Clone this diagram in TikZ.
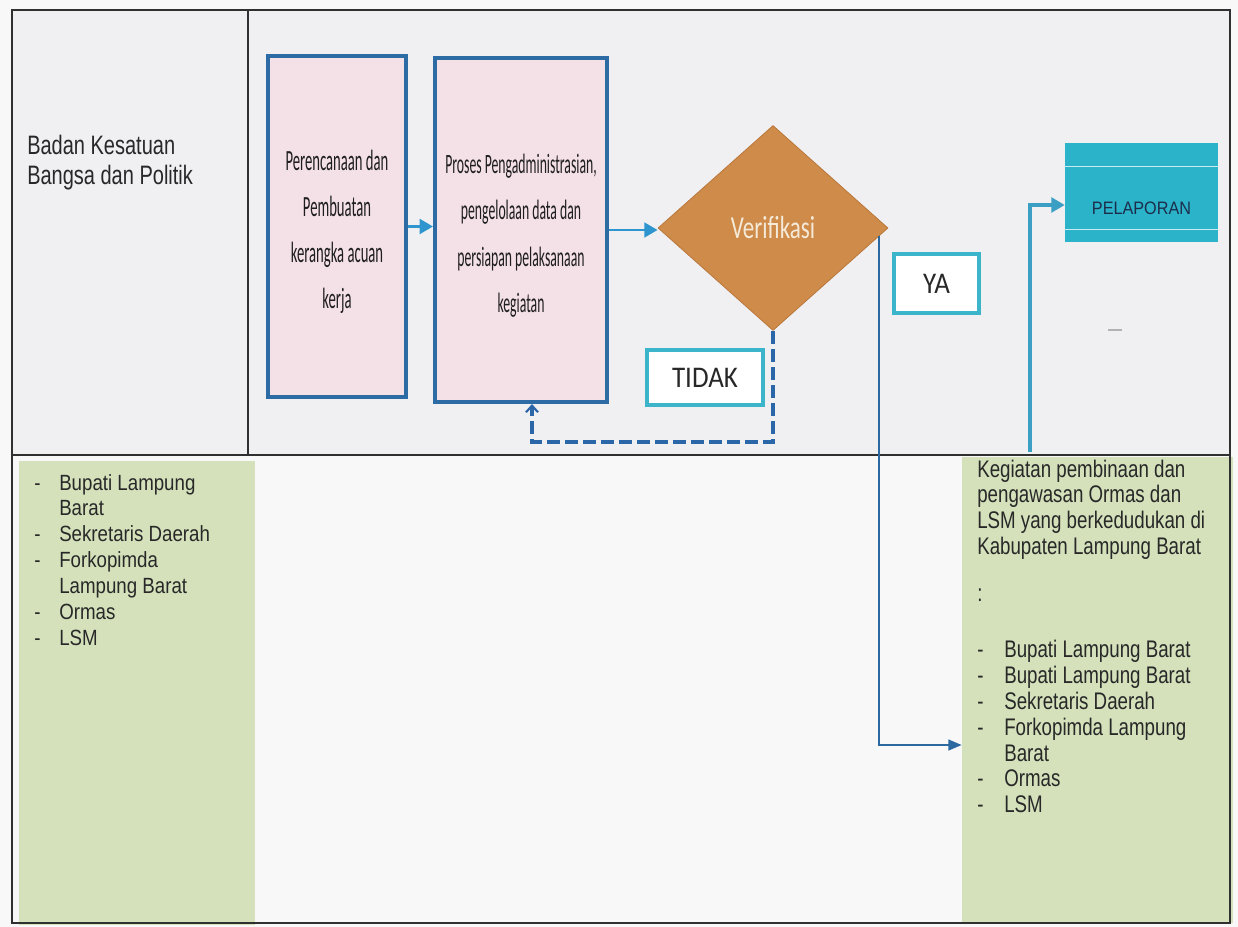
\documentclass[tikz,border=0pt]{standalone}
\usepackage{fontspec}
\setmainfont{Liberation Sans}
\newfontfamily\hdrfont[FakeStretch=0.75]{Liberation Sans}
\newfontfamily\lstfont[FakeStretch=0.85]{Liberation Sans}
\newfontfamily\rlstfont[FakeStretch=0.78]{Liberation Sans}
\newfontfamily\pelfont[FakeStretch=0.9]{Liberation Sans}
\newfontfamily\boxfonta[FakeStretch=0.5]{Carlito}
\newfontfamily\boxfontb[FakeStretch=0.49]{Carlito}
\newfontfamily\verfont[FakeStretch=0.72]{Carlito}
\newfontfamily\yafont[FakeStretch=0.9]{Carlito}
\usetikzlibrary{arrows.meta,shapes.geometric,calc}
\definecolor{pagebg}{HTML}{F8F8F8}
\definecolor{rowbg}{HTML}{F0F0F3}
\definecolor{framecol}{HTML}{303030}
\definecolor{boxblue}{HTML}{2C6BA3}
\definecolor{boxpink}{HTML}{F4E0E7}
\definecolor{arrowblue}{HTML}{2E95CF}
\definecolor{dashblue}{HTML}{2A66A8}
\definecolor{yablue}{HTML}{2B69A0}
\definecolor{tealline}{HTML}{3A9FC2}
\definecolor{tagcyan}{HTML}{3CB5CA}
\definecolor{diaorange}{HTML}{CE8B49}
\definecolor{diaedge}{HTML}{B9773B}
\definecolor{verwhite}{HTML}{F5E9D8}
\definecolor{pelfill}{HTML}{2BB3CA}
\definecolor{pelnavy}{HTML}{1C2D4A}
\definecolor{greenfill}{HTML}{D4E1BB}
\definecolor{txtdark}{HTML}{282828}
\definecolor{boxtxt}{HTML}{1E1E1E}
\begin{document}
\begin{tikzpicture}[x=0.75pt,y=-0.75pt,
  frame/.style={draw=framecol,line width=1.1pt},
  procbox/.style={draw=boxblue,line width=3pt,fill=boxpink,inner sep=0pt,align=center,text=boxtxt},
  tagbox/.style={draw=tagcyan,line width=3pt,fill=white,inner sep=0pt,text=txtdark,
    font=\yafont\fontsize{22.5}{24}\selectfont},
  greenbox/.style={fill=greenfill,draw=none,inner sep=0pt},
  flow/.style={draw=arrowblue,line width=2.2pt,-{Triangle[length=10pt,width=11pt]}},
  dashflow/.style={draw=dashblue,line width=3pt,dash pattern=on 10pt off 3.5pt,
    -{Straight Barb[length=5pt,width=9pt,line width=1.6pt]}},
  yaline/.style={draw=yablue,line width=1.6pt,-{Triangle[length=10pt,width=8pt]}},
  tealflow/.style={draw=tealline,line width=2.4pt,-{Triangle[length=10pt,width=11pt]}}
]
\useasboundingbox (0,0) rectangle (1238,927);
\fill[pagebg] (0,0) rectangle (1238,927);
\fill[rowbg] (12,10) rectangle (1229,455);

% green lane boxes
\node[greenbox,minimum width=177pt,minimum height=348pt] (g1) at (137,693) {};
\node[greenbox,minimum width=203.25pt,minimum height=349.5pt] (g2) at (1097.5,690) {};

% table frame
\draw[frame] (12,10) rectangle (1230,923);
\draw[frame] (248,10) -- (248,455);
\draw[frame] (12,455) -- (1230,455);

% header text
\node[anchor=base west,inner sep=0pt,text=txtdark,font=\hdrfont\fontsize{20}{22.5}\selectfont] (hdr) at (27,155)
  {\begin{tabular}[t]{@{}l@{}}Badan Kesatuan\\Bangsa dan Politik\end{tabular}};

% left list
\node[anchor=base west,inner sep=0pt,text=txtdark,font=\lstfont\fontsize{16.5}{19.4}\selectfont] (l1) at (34,490)
  {\begin{tabular}[t]{@{}p{18.75pt}@{}l@{}}
  -& Bupati Lampung\\
   & Barat\\
  -& Sekretaris Daerah\\
  -& Forkopimda\\
   & Lampung Barat\\
  -& Ormas\\
  -& LSM
  \end{tabular}};

% right list
\node[anchor=base west,inner sep=0pt,text=txtdark,font=\rlstfont\fontsize{18}{19.4}\selectfont] (l2) at (977,477)
  {\begin{tabular}[t]{@{}p{20.25pt}@{}l@{}}
  \multicolumn{2}{@{}l@{}}{Kegiatan pembinaan dan}\\
  \multicolumn{2}{@{}l@{}}{pengawasan Ormas dan}\\
  \multicolumn{2}{@{}l@{}}{LSM yang berkedudukan di}\\
  \multicolumn{2}{@{}l@{}}{Kabupaten Lampung Barat}\\[15.8pt]
  \multicolumn{2}{@{}l@{}}{:}\\[22.6pt]
  -& Bupati Lampung Barat\\
  -& Bupati Lampung Barat\\
  -& Sekretaris Daerah\\
  -& Forkopimda Lampung\\
   & Barat\\
  -& Ormas\\
  -& LSM
  \end{tabular}};

% process boxes
\node[procbox,minimum width=103.5pt,minimum height=255.75pt,
  font=\boxfonta\fontsize{22}{34.5}\selectfont] (b1) at (337,226.5)
  {\rule{0pt}{23.3pt}Perencanaan dan\\Pembuatan\\kerangka acuan\\kerja};
\node[procbox,minimum width=129pt,minimum height=258pt,
  font=\boxfontb\fontsize{21}{34.8}\selectfont] (b2) at (521,230)
  {\rule{0pt}{23.3pt}Proses Pengadministrasian,\\pengelolaan data dan\\persiapan pelaksanaan\\kegiatan};

% decision
\node[diamond,fill=diaorange,draw=diaedge,line width=0.6pt,minimum width=172.5pt,minimum height=153.75pt,
  inner sep=0pt,text=verwhite,font=\verfont\fontsize{24}{26}\selectfont] (dia) at (773,228) {Verifikasi};

% labels
\node[tagbox,minimum width=63.75pt,minimum height=44.25pt] (ya) at (936.5,283.5) {YA};
\node[tagbox,minimum width=87pt,minimum height=41.25pt] (tidak) at (705,377.5) {TIDAK};

% report box
\node[fill=pelfill,inner sep=0pt,minimum width=114.75pt,minimum height=74.25pt,text=pelnavy,
  font=\pelfont\fontsize{13.5}{15}\selectfont,text height=33.75pt,text depth=0pt] (pel) at (1141.5,192.5) {PELAPORAN};
\draw[white,line width=0.8pt,opacity=0.75] ($(pel.north west)+(0,24)$) -- ($(pel.north east)+(0,24)$);
\draw[white,line width=0.8pt,opacity=0.75] ($(pel.north west)+(0,87)$) -- ($(pel.north east)+(0,87)$);
\draw[gray!60,line width=0.8pt] (1108,330) -- (1122,330);

% connectors
\draw[flow] (b1.east) -- (b1.east -| b2.west);
\draw[flow] (b2.east) -- (b2.east -| dia.west);
\coordinate (dc) at (532,442);
\draw[dashflow] (dia.south) |- (dc) -- (dc |- b2.south);
\coordinate (yastart) at ($(dia.east)+(-9,8)$);
\coordinate (yaend) at ($(g2.west)+(0,55)$);
\draw[yaline] (yastart) |- (yaend);
\coordinate (tstart) at (1030,452);
\coordinate (pelin) at ($(pel.west)+(0,12.5)$);
\draw[tealflow] (tstart) |- (pelin);
\end{tikzpicture}
\end{document}
